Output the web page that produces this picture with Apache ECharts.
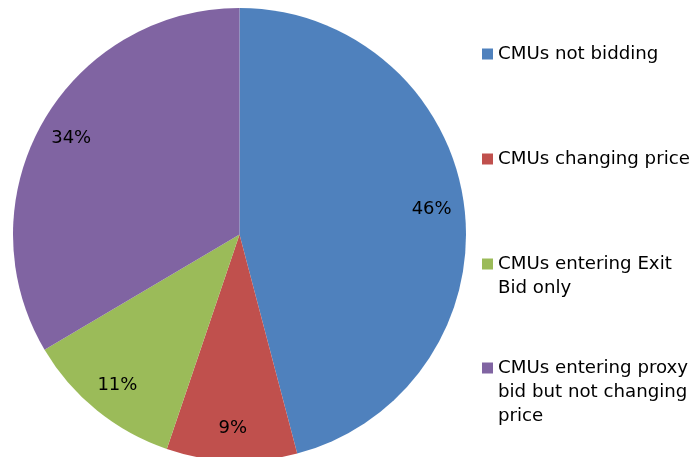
<!DOCTYPE html>
<html>
<head>
<meta charset="utf-8">
<script src="https://cdn.jsdelivr.net/npm/echarts@6/dist/echarts.min.js"></script>
<style>html,body{margin:0;padding:0;background:#fff}#c{width:695px;height:457px}</style>
</head>
<body>
<div id="c"></div>
<script>
const categories = ['CMUs not bidding', 'CMUs changing price', 'CMUs entering Exit Bid only', 'CMUs entering proxy bid but not changing price'];
const values = [45.9, 9.3, 11.3, 33.5];
const colors = ['#4F81BD', '#C0504D', '#9BBB59', '#8064A2'];
const legendLines = [1, 1, 2, 3];
const legendCenters = [54, 159, 264, 368];

const FONT = 'DejaVu Sans';
const R = 226.5;
const LH = 24;
const data = categories.map((n, i) => ({ name: n, value: values[i], itemStyle: { color: colors[i] } }));

const legends = categories.map((n, i) => ({
  data: [n],
  orient: 'vertical',
  left: 482,
  top: legendCenters[i] - ((2 * legendLines[i] - 1) * LH) / 2,
  padding: 0,
  icon: 'rect',
  itemWidth: 11,
  itemHeight: 11,
  selectedMode: false,
  formatter: name => '\n'.repeat(legendLines[i] - 1) + name,
  textStyle: {
    fontFamily: FONT, fontSize: 18.2, color: '#000', lineHeight: LH,
    width: 200, overflow: 'break'
  }
}));

const chart = echarts.init(document.getElementById('c'), null, { renderer: 'canvas' });
chart.setOption({
  animation: false,
  backgroundColor: '#fff',
  legend: legends,
  series: [
    {
      type: 'pie', center: [239.5, 234.5], radius: [0, R], startAngle: 90, clockwise: true,
      label: { show: false }, labelLine: { show: false },
      itemStyle: { borderWidth: 0 },
      emphasis: { disabled: true },
      data: data
    },
    {
      type: 'pie', center: [239.5, 234.5], radius: [155, R], startAngle: 90, clockwise: true,
      silent: true,
      itemStyle: { color: 'transparent', borderWidth: 0 },
      label: {
        show: true, position: 'inside', fontFamily: FONT, fontSize: 18, color: '#000',
        formatter: p => Math.round(p.percent) + '%'
      },
      labelLine: { show: false },
      emphasis: { disabled: true },
      data: categories.map((n, i) => ({ name: n, value: values[i] }))
    }
  ]
});
</script>
</body>
</html>
